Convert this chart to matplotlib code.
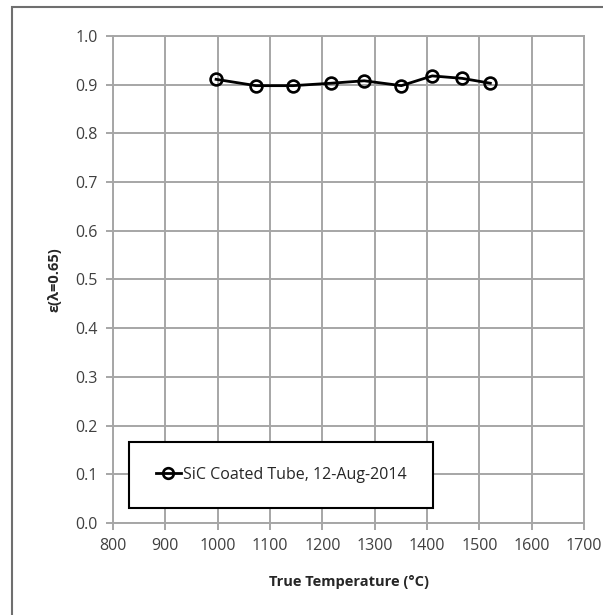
import matplotlib
matplotlib.use("Agg")
import matplotlib.pyplot as plt
from matplotlib.patches import Rectangle

plt.rcParams['font.family'] = ['Open Sans', 'DejaVu Sans']

# data
temps = [997, 1073, 1144, 1217, 1280, 1351, 1410, 1467, 1521]
emiss = [0.911, 0.898, 0.898, 0.903, 0.908, 0.898, 0.918, 0.913, 0.903]
series_label = "SiC Coated Tube, 12-Aug-2014"
x_ticks = list(range(800, 1701, 100))
y_ticks = [i / 10 for i in range(0, 11)]

fig = plt.figure(figsize=(6.03, 6.15), dpi=100)
ax = fig.add_axes([0.1874, 0.1496, 0.7811, 0.7919])

# outer chart-area border (cut off at right / bottom in the original)
fig.patches.append(Rectangle((12 / 603, -0.1), 1.2, 1.1 - 7 / 615,
                             transform=fig.transFigure, fill=False,
                             edgecolor='#6f6f6f', lw=1.5, zorder=0))

ax.plot(temps, emiss, color='black', lw=2.0, marker='o', ms=8.5,
        mfc='none', mec='black', mew=1.9, label=series_label, zorder=3)

ax.set_xlim(800, 1700)
ax.set_ylim(0, 1.0)
ax.set_xticks(x_ticks)
ax.set_yticks(y_ticks)
ax.set_yticklabels([f"{v:.1f}" for v in y_ticks])
ax.grid(True, color='#a6a6a6', lw=1.4)
ax.set_axisbelow(True)
for s in ax.spines.values():
    s.set_color('#a6a6a6')
    s.set_linewidth(1.4)
ax.tick_params(axis='both', direction='out', length=5, width=1.4,
               color='#a6a6a6', labelsize=11.5, labelcolor='#404040', pad=6)

ax.set_xlabel("True Temperature (°C)", fontsize=10.5, fontweight='bold',
              color='#262626', labelpad=15)
ax.set_ylabel("ε(λ=0.65)", fontsize=10.5, fontweight='bold',
              color='#262626', labelpad=10)

# legend box
bx, by, bw, bh = 0.034, 0.031, 0.645, 0.136
ax.add_patch(Rectangle((bx, by), bw, bh, transform=ax.transAxes,
                       facecolor='white', edgecolor='black', lw=1.5, zorder=4))
leg = ax.legend(loc='center', bbox_to_anchor=(bx, by, bw, bh), frameon=False,
                fontsize=11.5, handlelength=1.6, handletextpad=0.1,
                markerscale=0.9, labelcolor='#262626')
leg.set_zorder(5)

fig.savefig("out.png", dpi=100)
